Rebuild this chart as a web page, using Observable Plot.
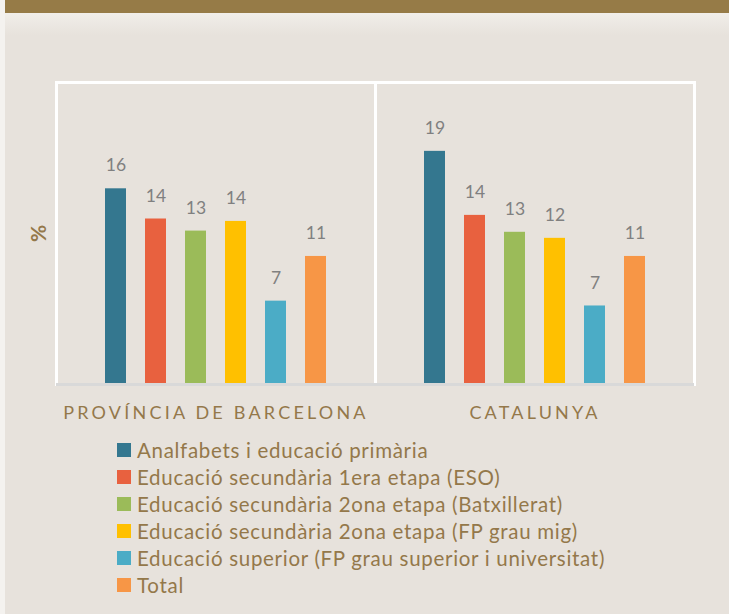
<!DOCTYPE html>
<html>
<head>
<meta charset="utf-8">
<script src="https://cdn.jsdelivr.net/npm/d3@7"></script>
<script src="https://cdn.jsdelivr.net/npm/@observablehq/plot@0.6"></script>
<style>
  html, body { margin: 0; padding: 0; }
  body { width: 729px; height: 614px; background: #E7E2DC; position: relative; overflow: hidden; font-family: Lato, "Open Sans", sans-serif; }
  #leftstrip { position: absolute; left: 0; top: 0; width: 5px; height: 614px; background: #F4F2EF; }
  #band { position: absolute; left: 5px; top: 0; width: 724px; height: 13px; background: #967B47; }
  #shade { position: absolute; left: 5px; top: 13px; width: 724px; height: 22px; background: linear-gradient(#F1EEE9, #E7E2DC); }
  #chart { position: absolute; left: 0; top: 0; }
  #chart g[aria-label^="fx-axis"] text { letter-spacing: 3.2px; }
  #legend { position: absolute; left: 117px; top: 437px; color: #94784A; font-size: 20.5px; letter-spacing: 0.7px; }
  #legend .row { display: flex; align-items: center; height: 26.9px; white-space: nowrap; }
  #legend .sw { width: 14px; height: 14px; margin-right: 6px; flex: none; }
</style>
</head>
<body>
<div id="leftstrip"></div>
<div id="band"></div>
<div id="shade"></div>
<div id="chart"></div>
<div id="legend"></div>
<script>
const regions = ["PROVÍNCIA DE BARCELONA", "CATALUNYA"];
const levels = [
  "Analfabets i educació primària",
  "Educació secundària 1era etapa (ESO)",
  "Educació secundària 2ona etapa (Batxillerat)",
  "Educació secundària 2ona etapa (FP grau mig)",
  "Educació superior (FP grau superior i universitat)",
  "Total"
];
const colors = ["#34778F", "#E8613F", "#9BBB59", "#FFC000", "#4BACC6", "#F79646"];
const barcelona = [16.2, 13.7, 12.7, 13.5, 6.9, 10.6];
const catalunya = [19.3, 14.0, 12.6, 12.1, 6.5, 10.6];
const yLabel = "%";

const data = levels.flatMap((level, i) => [
  {region: regions[0], level, value: barcelona[i]},
  {region: regions[1], level, value: catalunya[i]}
]);

const brown = "#94784A";

const chart = Plot.plot({
  width: 729,
  height: 440,
  marginLeft: 56,
  marginRight: 35,
  marginTop: 82,
  marginBottom: 56,
  style: {background: "transparent", fontFamily: "Lato, 'Open Sans', sans-serif", overflow: "visible"},
  fx: {domain: regions, padding: 0, label: null},
  x: {domain: levels, paddingInner: 0.48, paddingOuter: 1.18, axis: null},
  y: {domain: [0, 25], axis: null},
  color: {domain: levels, range: colors},
  marks: [
    Plot.frame({stroke: "white", strokeWidth: 3}),
    Plot.barY(data, {fx: "region", x: "level", y: "value", fill: "level"}),
    Plot.text(data, {fx: "region", x: "level", y: "value", text: d => String(Math.round(d.value)), dy: -23, fill: "#808080", fontSize: 17.5}),
    Plot.ruleY([0], {stroke: "#D9D9D9", strokeWidth: 3}),
    Plot.axisFx({anchor: "bottom", tickSize: 0, tickPadding: 22, fontSize: 18, fill: brown, label: null}),
    Plot.text([{region: regions[0]}], {fx: "region", frameAnchor: "left", textAnchor: "middle", text: () => yLabel, rotate: -90, dx: -17, fill: brown, fontSize: 21, fontWeight: "bold"})
  ]
});
document.getElementById("chart").appendChild(chart);

const legend = document.getElementById("legend");
levels.forEach((l, i) => {
  const row = document.createElement("div");
  row.className = "row";
  const sw = document.createElement("span");
  sw.className = "sw";
  sw.style.background = colors[i];
  const t = document.createElement("span");
  t.textContent = l;
  row.appendChild(sw);
  row.appendChild(t);
  legend.appendChild(row);
});
</script>
</body>
</html>
